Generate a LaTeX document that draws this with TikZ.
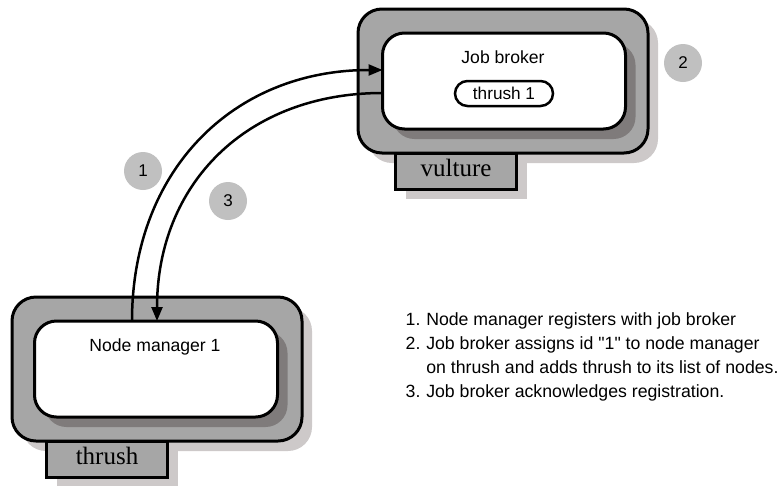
\documentclass[tikz,border=0pt]{standalone}
\usepackage{fontspec}
\setmainfont{Liberation Sans}[Ligatures=TeXOff]
\newfontfamily\hostfont{Liberation Serif}
\usetikzlibrary{arrows.meta,calc}

\definecolor{hostgray}{HTML}{A6A6A6}
\definecolor{farshadow}{HTML}{CDC9C9}
\definecolor{nearshadow}{HTML}{7F7B7B}
\definecolor{stepgray}{HTML}{C0C0C0}

\tikzset{
  hostshadow/.style={fill=farshadow, rounded corners=24pt, minimum width=290pt,
    minimum height=144pt, inner sep=0pt, outer sep=0pt},
  hostbox/.style={draw=black, line width=3pt, fill=hostgray, rounded corners=24pt,
    minimum width=290pt, minimum height=144pt, inner sep=0pt, outer sep=0pt},
  tabshadow/.style={fill=farshadow, minimum width=121pt, minimum height=36pt,
    inner sep=0pt, outer sep=0pt},
  tabbox/.style={draw=black, line width=3pt, fill=hostgray, minimum width=121pt,
    minimum height=36pt, inner sep=0pt, outer sep=0pt},
  tablabel/.style={font=\hostfont\fontsize{25}{25}\selectfont, inner sep=0pt, anchor=base},
  procshadow/.style={fill=nearshadow, rounded corners=22pt, minimum width=243pt,
    minimum height=96pt, inner sep=0pt, outer sep=0pt},
  procbox/.style={draw=black, line width=3pt, fill=white, rounded corners=22pt,
    minimum width=243pt, minimum height=96pt, inner sep=0pt, outer sep=0pt},
  proclabel/.style={font=\fontsize{17.6}{20}\selectfont, inner sep=0pt, anchor=base},
  pill/.style={draw=black, line width=2.5pt, fill=white, rounded corners=12.5pt,
    minimum width=98pt, minimum height=25pt, inner sep=0pt,
    font=\fontsize{17.2}{20}\selectfont},
  stepmark/.style={circle, fill=stepgray, minimum size=38pt, inner sep=0pt,
    font=\fontsize{17}{20}\selectfont},
  msg/.style={line width=2.5pt, -{Triangle[length=14pt,width=11pt]}},
  legend/.style={font=\fontsize{17.7}{24.1}\selectfont, inner sep=0pt, anchor=base west},
}

\begin{document}
\begin{tikzpicture}[x=1pt,y=-1pt]
\useasboundingbox (0,0) rectangle (783,485);

% ---- host vulture: job broker ----
\node[hostshadow] at (513,91) {};
\node[tabshadow] at (466,181) {};
\node[hostbox] (vhost) at (503,81) {};
\node[tabbox] (vtab) at (456,171) {};
\node[tablabel] (vname) at (456,176) {vulture};
\node[procshadow] at (514,91) {};
\node[procbox] (jb) at (504,81) {};
\node[proclabel] (jbtitle) at (503,63) {Job broker};
\node[pill] (entry) at (504,93.5) {thrush 1};

% ---- host thrush: node manager ----
\node[hostshadow] at (167,379) {};
\node[tabshadow] at (117,469) {};
\node[hostbox] (thost) at (157,369) {};
\node[tabbox] (ttab) at (107,459) {};
\node[tablabel] (tname) at (107,464) {thrush};
\node[procshadow] at (166,379) {};
\node[procbox] (nm) at (156,369) {};
\node[proclabel] (nmtitle) at (155,351) {Node manager 1};

% ---- messages ----
\draw[msg] ($(nm.north west)+(97.5,0)$) .. controls +(0,-150) and +(-150,0) ..
  ($(jb.north west)+(0,37)$);
\draw[msg] ($(jb.north west)+(0,60)$) .. controls +(-136,0) and +(0,-137) ..
  ($(nm.north west)+(122.5,0)$);

% ---- step markers ----
\node[stepmark] (s1) at (143,171) {1};
\node[stepmark] (s3) at (228,201) {3};
\node[stepmark] (s2) at (683,63) {2};

% ---- legend ----
\node[legend] (notes) at (405.5,325) {%
  \begin{tabular}[t]{@{}l@{\hspace{5.8pt}}l@{}}
  1. & Node manager registers with job broker\\
  2. & Job broker assigns id "1" to node manager\\
     & on thrush and adds thrush to its list of nodes.\\
  3. & Job broker acknowledges registration.
  \end{tabular}};
\end{tikzpicture}
\end{document}
